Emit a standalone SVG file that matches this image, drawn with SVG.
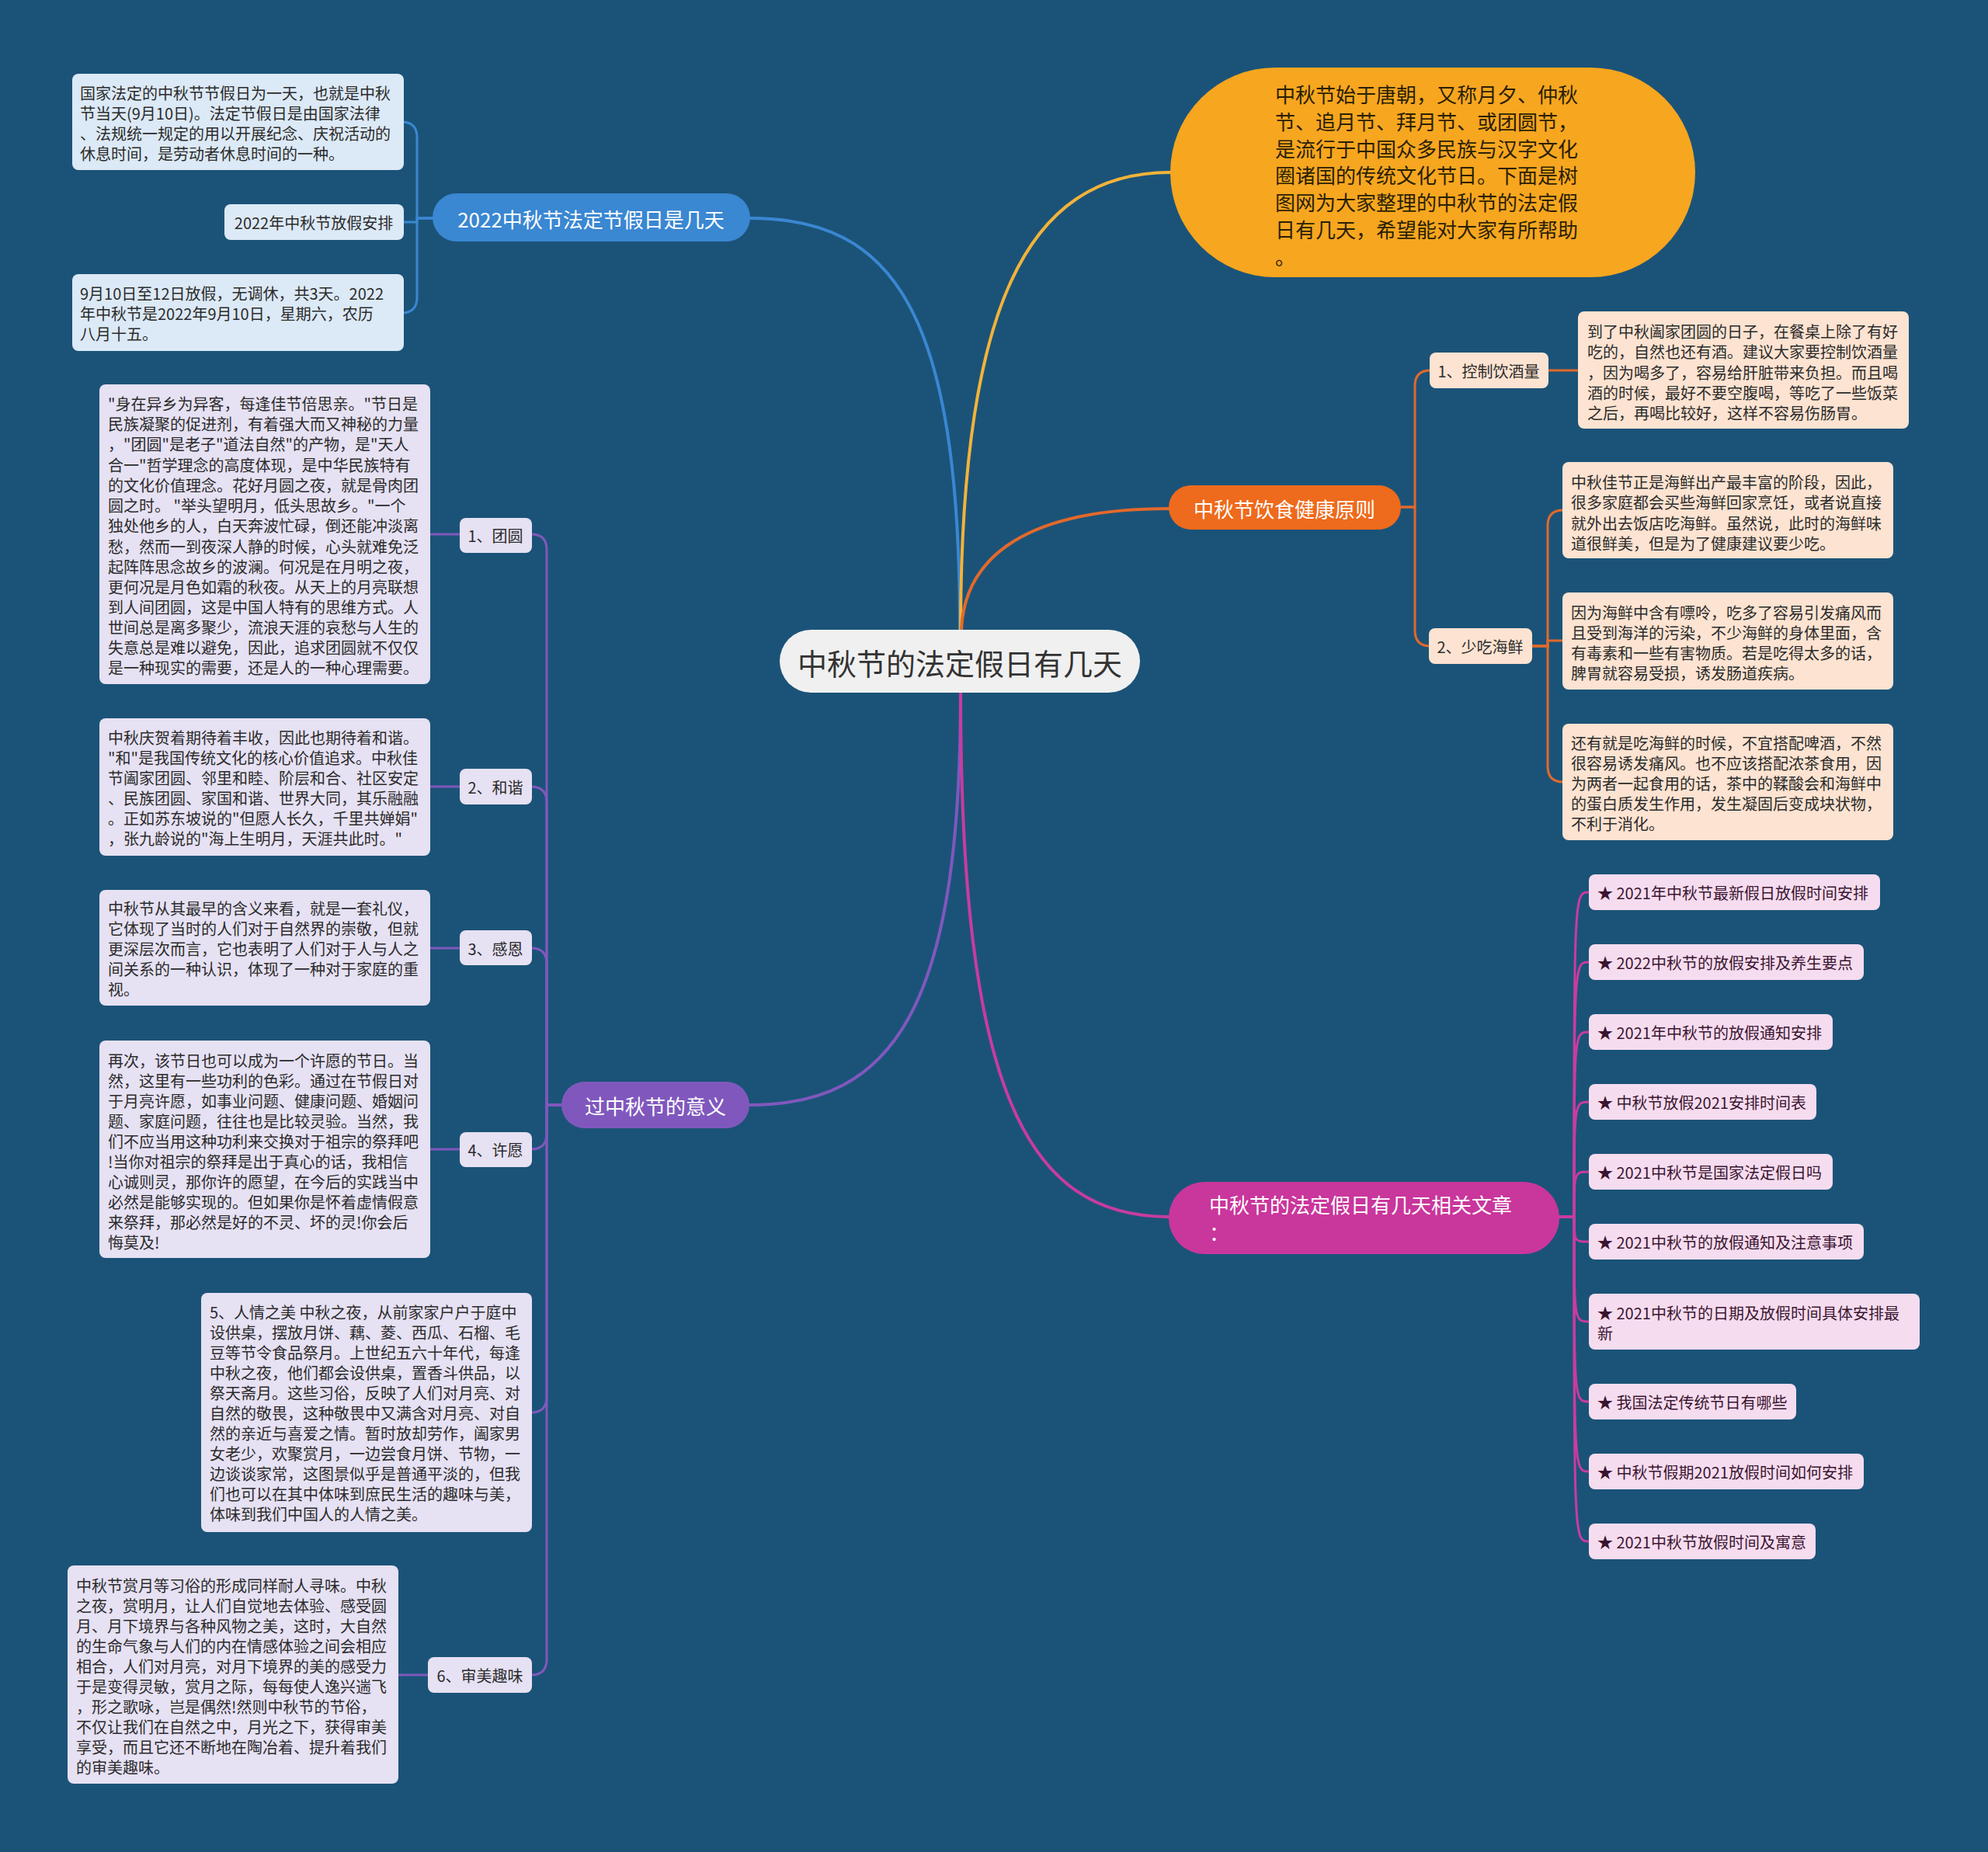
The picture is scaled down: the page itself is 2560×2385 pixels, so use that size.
<svg xmlns="http://www.w3.org/2000/svg" width="2560" height="2385" viewBox="0 0 2560 2385">
<style>
text{font-family:"Noto Sans CJK SC","Liberation Sans",sans-serif;dominant-baseline:central}
.t20{font-size:20px;fill:#2b2b2b}
.t26w{font-size:26px;fill:#ffffff}
.mid{text-anchor:middle}
.lb{fill:#dce9f6}
.lo{fill:#fde3d1}
.lp{fill:#e6e1f3}
.lm{fill:#f6dcef}
.c{fill:none;stroke-linecap:round}
</style>
<rect width="2560" height="2385" fill="#1b5378"/>
<g id="connectors">
  <path class="c" d="M1236 811 C1236 400 1150 281 966 281" stroke="#3a87d2" stroke-width="4"/>
  <path class="c" d="M1237 811 C1237 400 1320 222 1507 222" stroke="#f2b33a" stroke-width="4"/>
  <path class="c" d="M1238 811 C1242 715 1325 655 1505 655" stroke="#e2692b" stroke-width="4"/>
  <path class="c" d="M1237 892 C1237 1300 1150 1423 965 1423" stroke="#8058bd" stroke-width="4"/>
  <path class="c" d="M1237 892 C1237 1400 1320 1567 1505 1567" stroke="#c93c9f" stroke-width="4"/>
  <g stroke="#3a87d2" stroke-width="3" class="c">
    <path class="c" d="M557 281 H537 V177 Q537 157 517 157"/>
    <path class="c" d="M557 281 H537 V286 Q537 286 520 286"/>
    <path class="c" d="M557 281 H537 V383 Q537 403 517 403"/>
  </g>
  <g stroke="#e2692b" stroke-width="3">
    <path class="c" d="M1804 653 H1822 V497 Q1822 477 1842 477"/>
    <path class="c" d="M1804 653 H1822 V812 Q1822 832 1842 832"/>
    <path class="c" d="M1994 477 H2032"/>
    <path class="c" d="M1973 832 H1993 V677 Q1993 657 2013 657"/>
    <path class="c" d="M1973 832 H1993 V825 Q1993 825 2012 825"/>
    <path class="c" d="M1973 832 H1993 V987 Q1993 1007 2013 1007"/>
  </g>
  <g stroke="#8058bd" stroke-width="3">
    <path class="c" d="M723 1423 H704 V708 Q704 688 684 688"/>
    <path class="c" d="M723 1423 H704 V1033 Q704 1013 684 1013"/>
    <path class="c" d="M723 1423 H704 V1241 Q704 1221 684 1221"/>
    <path class="c" d="M723 1423 H704 V1460 Q704 1480 684 1480"/>
    <path class="c" d="M723 1423 H704 V1799 Q704 1819 684 1819"/>
    <path class="c" d="M723 1423 H704 V2137 Q704 2157 684 2157"/>
    <path class="c" d="M554 688 H592"/>
    <path class="c" d="M554 1013 H592"/>
    <path class="c" d="M554 1221 H592"/>
    <path class="c" d="M554 1480 H592"/>
    <path class="c" d="M513 2157 H551"/>
  </g>
  <g stroke="#c93c9f" stroke-width="3">
    <path class="c" d="M2008 1567 H2027 C2027 1149 2027 1149 2046 1149"/>
    <path class="c" d="M2008 1567 H2027 C2027 1239 2027 1239 2046 1239"/>
    <path class="c" d="M2008 1567 H2027 C2027 1329 2027 1329 2046 1329"/>
    <path class="c" d="M2008 1567 H2027 C2027 1419 2027 1419 2046 1419"/>
    <path class="c" d="M2008 1567 H2027 C2027 1509 2027 1509 2046 1509"/>
    <path class="c" d="M2008 1567 H2027 C2027 1599 2027 1599 2046 1599"/>
    <path class="c" d="M2008 1567 H2027 C2027 1702 2027 1702 2046 1702"/>
    <path class="c" d="M2008 1567 H2027 C2027 1805 2027 1805 2046 1805"/>
    <path class="c" d="M2008 1567 H2027 C2027 1895 2027 1895 2046 1895"/>
    <path class="c" d="M2008 1567 H2027 C2027 1985 2027 1985 2046 1985"/>
  </g>
</g>

<g id="center">
  <rect x="1004" y="811" width="464" height="81" rx="40.5" fill="#f0f0f0"/>
  <text x="1236" y="852" class="mid" style="font-size:38px;fill:#333">中秋节的法定假日有几天</text>
</g>

<g id="intro">
  <rect x="1507" y="87" width="676" height="270" rx="135" fill="#f7a61f"/>
  <text style="font-size:26px;fill:#2a1f05">
    <tspan x="1642" y="120">中秋节始于唐朝，又称月夕、仲秋</tspan>
    <tspan x="1642" y="155">节、追月节、拜月节、或团圆节，</tspan>
    <tspan x="1642" y="190">是流行于中国众多民族与汉字文化</tspan>
    <tspan x="1642" y="224">圈诸国的传统文化节日。下面是树</tspan>
    <tspan x="1642" y="259">图网为大家整理的中秋节的法定假</tspan>
    <tspan x="1642" y="294">日有几天，希望能对大家有所帮助</tspan>
    <tspan x="1642" y="329">。</tspan>
  </text>
</g>

<g id="branch-holiday">
  <rect x="557" y="249" width="409" height="62" rx="31" fill="#3a87d2"/>
  <text x="761" y="281" class="t26w mid">2022中秋节法定节假日是几天</text>
</g>
<g id="holiday-desc">
  <rect x="93" y="95" width="427" height="124" rx="8" class="lb"/>
  <text class="t20">
    <tspan x="103" y="119">国家法定的中秋节节假日为一天，也就是中秋</tspan>
    <tspan x="103" y="145">节当天(9月10日)。法定节假日是由国家法律</tspan>
    <tspan x="103" y="171">、法规统一规定的用以开展纪念、庆祝活动的</tspan>
    <tspan x="103" y="197">休息时间，是劳动者休息时间的一种。</tspan>
  </text>
</g>
<g id="holiday-plan">
  <rect x="289" y="263" width="231" height="46" rx="8" class="lb"/>
  <text x="404" y="286" class="t20 mid">2022年中秋节放假安排</text>
</g>
<g id="holiday-dates">
  <rect x="93" y="353" width="427" height="99" rx="8" class="lb"/>
  <text class="t20">
    <tspan x="103" y="377">9月10日至12日放假，无调休，共3天。2022</tspan>
    <tspan x="103" y="403">年中秋节是2022年9月10日，星期六，农历</tspan>
    <tspan x="103" y="429">八月十五。</tspan>
  </text>
</g>

<g id="branch-diet">
  <rect x="1505" y="625" width="299" height="57" rx="28.5" fill="#ee6a1c"/>
  <text x="1654" y="654" class="t26w mid">中秋节饮食健康原则</text>
</g>
<g id="diet-1">
  <rect x="1841" y="454" width="153" height="46" rx="8" class="lo"/>
  <text x="1917" y="477" class="t20 mid">1、控制饮酒量</text>
</g>
<g id="diet-1-text">
  <rect x="2032" y="401" width="426" height="151" rx="8" class="lo"/>
  <text class="t20">
    <tspan x="2044" y="426">到了中秋阖家团圆的日子，在餐桌上除了有好</tspan>
    <tspan x="2044" y="452">吃的，自然也还有酒。建议大家要控制饮酒量</tspan>
    <tspan x="2044" y="479">，因为喝多了，容易给肝脏带来负担。而且喝</tspan>
    <tspan x="2044" y="505">酒的时候，最好不要空腹喝，等吃了一些饭菜</tspan>
    <tspan x="2044" y="531">之后，再喝比较好，这样不容易伤肠胃。</tspan>
  </text>
</g>
<g id="diet-2">
  <rect x="1840" y="809" width="133" height="46" rx="8" class="lo"/>
  <text x="1906" y="832" class="t20 mid">2、少吃海鲜</text>
</g>
<g id="diet-2a">
  <rect x="2012" y="595" width="426" height="124" rx="8" class="lo"/>
  <text class="t20">
    <tspan x="2023" y="620">中秋佳节正是海鲜出产最丰富的阶段，因此，</tspan>
    <tspan x="2023" y="646">很多家庭都会买些海鲜回家烹饪，或者说直接</tspan>
    <tspan x="2023" y="673">就外出去饭店吃海鲜。虽然说，此时的海鲜味</tspan>
    <tspan x="2023" y="699">道很鲜美，但是为了健康建议要少吃。</tspan>
  </text>
</g>
<g id="diet-2b">
  <rect x="2012" y="763" width="426" height="125" rx="8" class="lo"/>
  <text class="t20">
    <tspan x="2023" y="788">因为海鲜中含有嘌呤，吃多了容易引发痛风而</tspan>
    <tspan x="2023" y="814">且受到海洋的污染，不少海鲜的身体里面，含</tspan>
    <tspan x="2023" y="840">有毒素和一些有害物质。若是吃得太多的话，</tspan>
    <tspan x="2023" y="866">脾胃就容易受损，诱发肠道疾病。</tspan>
  </text>
</g>
<g id="diet-2c">
  <rect x="2012" y="932" width="426" height="150" rx="8" class="lo"/>
  <text class="t20">
    <tspan x="2023" y="956">还有就是吃海鲜的时候，不宜搭配啤酒，不然</tspan>
    <tspan x="2023" y="982">很容易诱发痛风。也不应该搭配浓茶食用，因</tspan>
    <tspan x="2023" y="1008">为两者一起食用的话，茶中的鞣酸会和海鲜中</tspan>
    <tspan x="2023" y="1034">的蛋白质发生作用，发生凝固后变成块状物，</tspan>
    <tspan x="2023" y="1060">不利于消化。</tspan>
  </text>
</g>

<g id="branch-meaning">
  <rect x="723" y="1393" width="242" height="60" rx="30" fill="#8058bd"/>
  <text x="844" y="1423" class="t26w mid">过中秋节的意义</text>
</g>
<g id="m1">
  <rect x="592" y="667" width="93" height="45" rx="8" class="lp"/>
  <text x="638" y="689" class="t20 mid">1、团圆</text>
</g>
<g id="m1-text">
  <rect x="128" y="495" width="426" height="386" rx="8" class="lp"/>
  <text class="t20">
    <tspan x="139" y="519">"身在异乡为异客，每逢佳节倍思亲。"节日是</tspan>
    <tspan x="139" y="545">民族凝聚的促进剂，有着强大而又神秘的力量</tspan>
    <tspan x="139" y="571">，"团圆"是老子"道法自然"的产物，是"天人</tspan>
    <tspan x="139" y="598">合一"哲学理念的高度体现，是中华民族特有</tspan>
    <tspan x="139" y="624">的文化价值理念。花好月圆之夜，就是骨肉团</tspan>
    <tspan x="139" y="650">圆之时。 "举头望明月，低头思故乡。"一个</tspan>
    <tspan x="139" y="676">独处他乡的人，白天奔波忙碌，倒还能冲淡离</tspan>
    <tspan x="139" y="703">愁，然而一到夜深人静的时候，心头就难免泛</tspan>
    <tspan x="139" y="729">起阵阵思念故乡的波澜。何况是在月明之夜，</tspan>
    <tspan x="139" y="755">更何况是月色如霜的秋夜。从天上的月亮联想</tspan>
    <tspan x="139" y="781">到人间团圆，这是中国人特有的思维方式。人</tspan>
    <tspan x="139" y="807">世间总是离多聚少，流浪天涯的哀愁与人生的</tspan>
    <tspan x="139" y="833">失意总是难以避免，因此，追求团圆就不仅仅</tspan>
    <tspan x="139" y="859">是一种现实的需要，还是人的一种心理需要。</tspan>
  </text>
</g>
<g id="m2">
  <rect x="592" y="990" width="93" height="46" rx="8" class="lp"/>
  <text x="638" y="1013" class="t20 mid">2、和谐</text>
</g>
<g id="m2-text">
  <rect x="128" y="925" width="426" height="177" rx="8" class="lp"/>
  <text class="t20">
    <tspan x="139" y="949">中秋庆贺着期待着丰收，因此也期待着和谐。</tspan>
    <tspan x="139" y="975">"和"是我国传统文化的核心价值追求。中秋佳</tspan>
    <tspan x="139" y="1001">节阖家团圆、邻里和睦、阶层和合、社区安定</tspan>
    <tspan x="139" y="1027">、民族团圆、家国和谐、世界大同，其乐融融</tspan>
    <tspan x="139" y="1053">。正如苏东坡说的"但愿人长久，千里共婵娟"</tspan>
    <tspan x="139" y="1079">，张九龄说的"海上生明月，天涯共此时。"</tspan>
  </text>
</g>
<g id="m3">
  <rect x="592" y="1198" width="93" height="45" rx="8" class="lp"/>
  <text x="638" y="1221" class="t20 mid">3、感恩</text>
</g>
<g id="m3-text">
  <rect x="128" y="1146" width="426" height="149" rx="8" class="lp"/>
  <text class="t20">
    <tspan x="139" y="1169">中秋节从其最早的含义来看，就是一套礼仪，</tspan>
    <tspan x="139" y="1195">它体现了当时的人们对于自然界的崇敬，但就</tspan>
    <tspan x="139" y="1221">更深层次而言，它也表明了人们对于人与人之</tspan>
    <tspan x="139" y="1247">间关系的一种认识，体现了一种对于家庭的重</tspan>
    <tspan x="139" y="1273">视。</tspan>
  </text>
</g>
<g id="m4">
  <rect x="592" y="1458" width="93" height="45" rx="8" class="lp"/>
  <text x="638" y="1480" class="t20 mid">4、许愿</text>
</g>
<g id="m4-text">
  <rect x="128" y="1340" width="426" height="280" rx="8" class="lp"/>
  <text class="t20">
    <tspan x="139" y="1365">再次，该节日也可以成为一个许愿的节日。当</tspan>
    <tspan x="139" y="1391">然，这里有一些功利的色彩。通过在节假日对</tspan>
    <tspan x="139" y="1417">于月亮许愿，如事业问题、健康问题、婚姻问</tspan>
    <tspan x="139" y="1443">题、家庭问题，往往也是比较灵验。当然，我</tspan>
    <tspan x="139" y="1469">们不应当用这种功利来交换对于祖宗的祭拜吧</tspan>
    <tspan x="139" y="1495">!当你对祖宗的祭拜是出于真心的话，我相信</tspan>
    <tspan x="139" y="1521">心诚则灵，那你许的愿望，在今后的实践当中</tspan>
    <tspan x="139" y="1547">必然是能够实现的。但如果你是怀着虚情假意</tspan>
    <tspan x="139" y="1573">来祭拜，那必然是好的不灵、坏的灵!你会后</tspan>
    <tspan x="139" y="1599">悔莫及!</tspan>
  </text>
</g>
<g id="m5">
  <rect x="259" y="1665" width="426" height="308" rx="8" class="lp"/>
  <text class="t20">
    <tspan x="270" y="1689">5、人情之美 中秋之夜，从前家家户户于庭中</tspan>
    <tspan x="270" y="1715">设供桌，摆放月饼、藕、菱、西瓜、石榴、毛</tspan>
    <tspan x="270" y="1741">豆等节令食品祭月。上世纪五六十年代，每逢</tspan>
    <tspan x="270" y="1767">中秋之夜，他们都会设供桌，置香斗供品，以</tspan>
    <tspan x="270" y="1793">祭天斋月。这些习俗，反映了人们对月亮、对</tspan>
    <tspan x="270" y="1819">自然的敬畏，这种敬畏中又满含对月亮、对自</tspan>
    <tspan x="270" y="1845">然的亲近与喜爱之情。暂时放却劳作，阖家男</tspan>
    <tspan x="270" y="1871">女老少，欢聚赏月，一边尝食月饼、节物，一</tspan>
    <tspan x="270" y="1897">边谈谈家常，这图景似乎是普通平淡的，但我</tspan>
    <tspan x="270" y="1923">们也可以在其中体味到庶民生活的趣味与美，</tspan>
    <tspan x="270" y="1949">体味到我们中国人的人情之美。</tspan>
  </text>
</g>
<g id="m6">
  <rect x="551" y="2134" width="134" height="46" rx="8" class="lp"/>
  <text x="618" y="2157" class="t20 mid">6、审美趣味</text>
</g>
<g id="m6-text">
  <rect x="87" y="2016" width="426" height="281" rx="8" class="lp"/>
  <text class="t20">
    <tspan x="98" y="2041">中秋节赏月等习俗的形成同样耐人寻味。中秋</tspan>
    <tspan x="98" y="2067">之夜，赏明月，让人们自觉地去体验、感受圆</tspan>
    <tspan x="98" y="2093">月、月下境界与各种风物之美，这时，大自然</tspan>
    <tspan x="98" y="2119">的生命气象与人们的内在情感体验之间会相应</tspan>
    <tspan x="98" y="2145">相合，人们对月亮，对月下境界的美的感受力</tspan>
    <tspan x="98" y="2171">于是变得灵敏，赏月之际，每每使人逸兴遄飞</tspan>
    <tspan x="98" y="2197">，形之歌咏，岂是偶然!然则中秋节的节俗，</tspan>
    <tspan x="98" y="2223">不仅让我们在自然之中，月光之下，获得审美</tspan>
    <tspan x="98" y="2249">享受，而且它还不断地在陶冶着、提升着我们</tspan>
    <tspan x="98" y="2275">的审美趣味。</tspan>
  </text>
</g>

<g id="branch-articles">
  <rect x="1505" y="1522" width="503" height="93" rx="46.5" fill="#c9369c"/>
  <text class="t26w">
    <tspan x="1557" y="1550">中秋节的法定假日有几天相关文章</tspan>
    <tspan x="1557" y="1586">：</tspan>
  </text>
</g>
<g id="a1"><rect x="2046" y="1126" width="375" height="46" rx="8" class="lm"/><text x="2057" y="1149" class="t20" style="fill:#3a1530">★ 2021年中秋节最新假日放假时间安排</text></g>
<g id="a2"><rect x="2046" y="1216" width="354" height="46" rx="8" class="lm"/><text x="2057" y="1239" class="t20" style="fill:#3a1530">★ 2022中秋节的放假安排及养生要点</text></g>
<g id="a3"><rect x="2046" y="1306" width="314" height="46" rx="8" class="lm"/><text x="2057" y="1329" class="t20" style="fill:#3a1530">★ 2021年中秋节的放假通知安排</text></g>
<g id="a4"><rect x="2046" y="1396" width="293" height="46" rx="8" class="lm"/><text x="2057" y="1419" class="t20" style="fill:#3a1530">★ 中秋节放假2021安排时间表</text></g>
<g id="a5"><rect x="2046" y="1486" width="314" height="46" rx="8" class="lm"/><text x="2057" y="1509" class="t20" style="fill:#3a1530">★ 2021中秋节是国家法定假日吗</text></g>
<g id="a6"><rect x="2046" y="1576" width="354" height="46" rx="8" class="lm"/><text x="2057" y="1599" class="t20" style="fill:#3a1530">★ 2021中秋节的放假通知及注意事项</text></g>
<g id="a7"><rect x="2046" y="1666" width="426" height="72" rx="8" class="lm"/><text class="t20" style="fill:#3a1530"><tspan x="2057" y="1690">★ 2021中秋节的日期及放假时间具体安排最</tspan><tspan x="2057" y="1716">新</tspan></text></g>
<g id="a8"><rect x="2046" y="1782" width="267" height="46" rx="8" class="lm"/><text x="2057" y="1805" class="t20" style="fill:#3a1530">★ 我国法定传统节日有哪些</text></g>
<g id="a9"><rect x="2046" y="1872" width="354" height="46" rx="8" class="lm"/><text x="2057" y="1895" class="t20" style="fill:#3a1530">★ 中秋节假期2021放假时间如何安排</text></g>
<g id="a10"><rect x="2046" y="1962" width="292" height="46" rx="8" class="lm"/><text x="2057" y="1985" class="t20" style="fill:#3a1530">★ 2021中秋节放假时间及寓意</text></g>
</svg>
